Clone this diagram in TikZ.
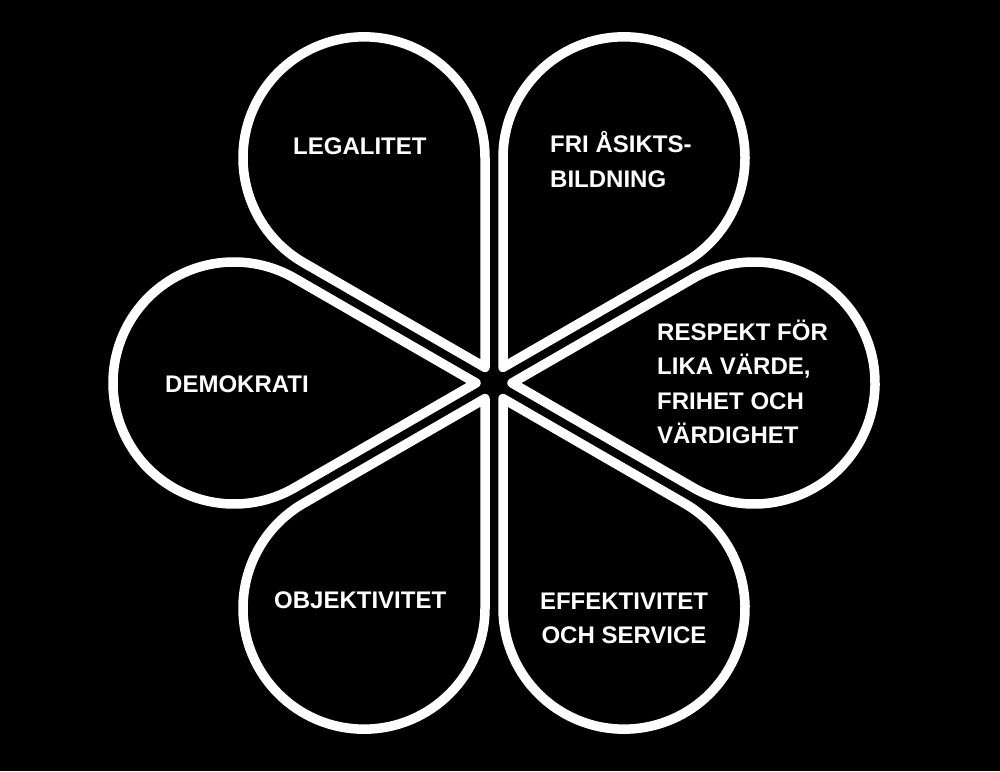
\documentclass[tikz,border=0pt]{standalone}
\usepackage{fontspec}
\setmainfont{Liberation Sans}
\begin{document}
\begin{tikzpicture}[x=1pt,y=1pt,
  petal/.style={draw=white,line width=9.5pt,line join=round},
  lbl/.style={text=white,font=\fontsize{24}{34.5}\selectfont\bfseries,inner sep=0pt}]
\fill[black] (0,0) rectangle (1000,771);
\useasboundingbox (0,0) rectangle (1000,771);
\coordinate (C) at (494,388);
\foreach \a in {0,60,...,300} {
  \draw[petal, shift={(494,388)}, rotate=\a]
    (18,0) -- ({260+121*cos(120)},{121*sin(120)})
    arc[start angle=120,end angle=-120,radius=121] -- cycle;
}
\node[lbl,anchor=base west] (leg) at (293,616.5) {LEGALITET};
\node[lbl,anchor=base west,align=left] (fri) at (550,583.5) {FRI ÅSIKTS-\\BILDNING};
\node[lbl,anchor=base west,align=left] (res) at (657,327) {RESPEKT FÖR\\LIKA VÄRDE,\\FRIHET OCH\\VÄRDIGHET};
\node[lbl,anchor=base west] (dem) at (165,378.5) {DEMOKRATI};
\node[lbl,anchor=base west] (obj) at (274,163) {OBJEKTIVITET};
\node[lbl,anchor=base,align=center] (eff) at (624,127.5) {EFFEKTIVITET\\OCH SERVICE};
\end{tikzpicture}
\end{document}
